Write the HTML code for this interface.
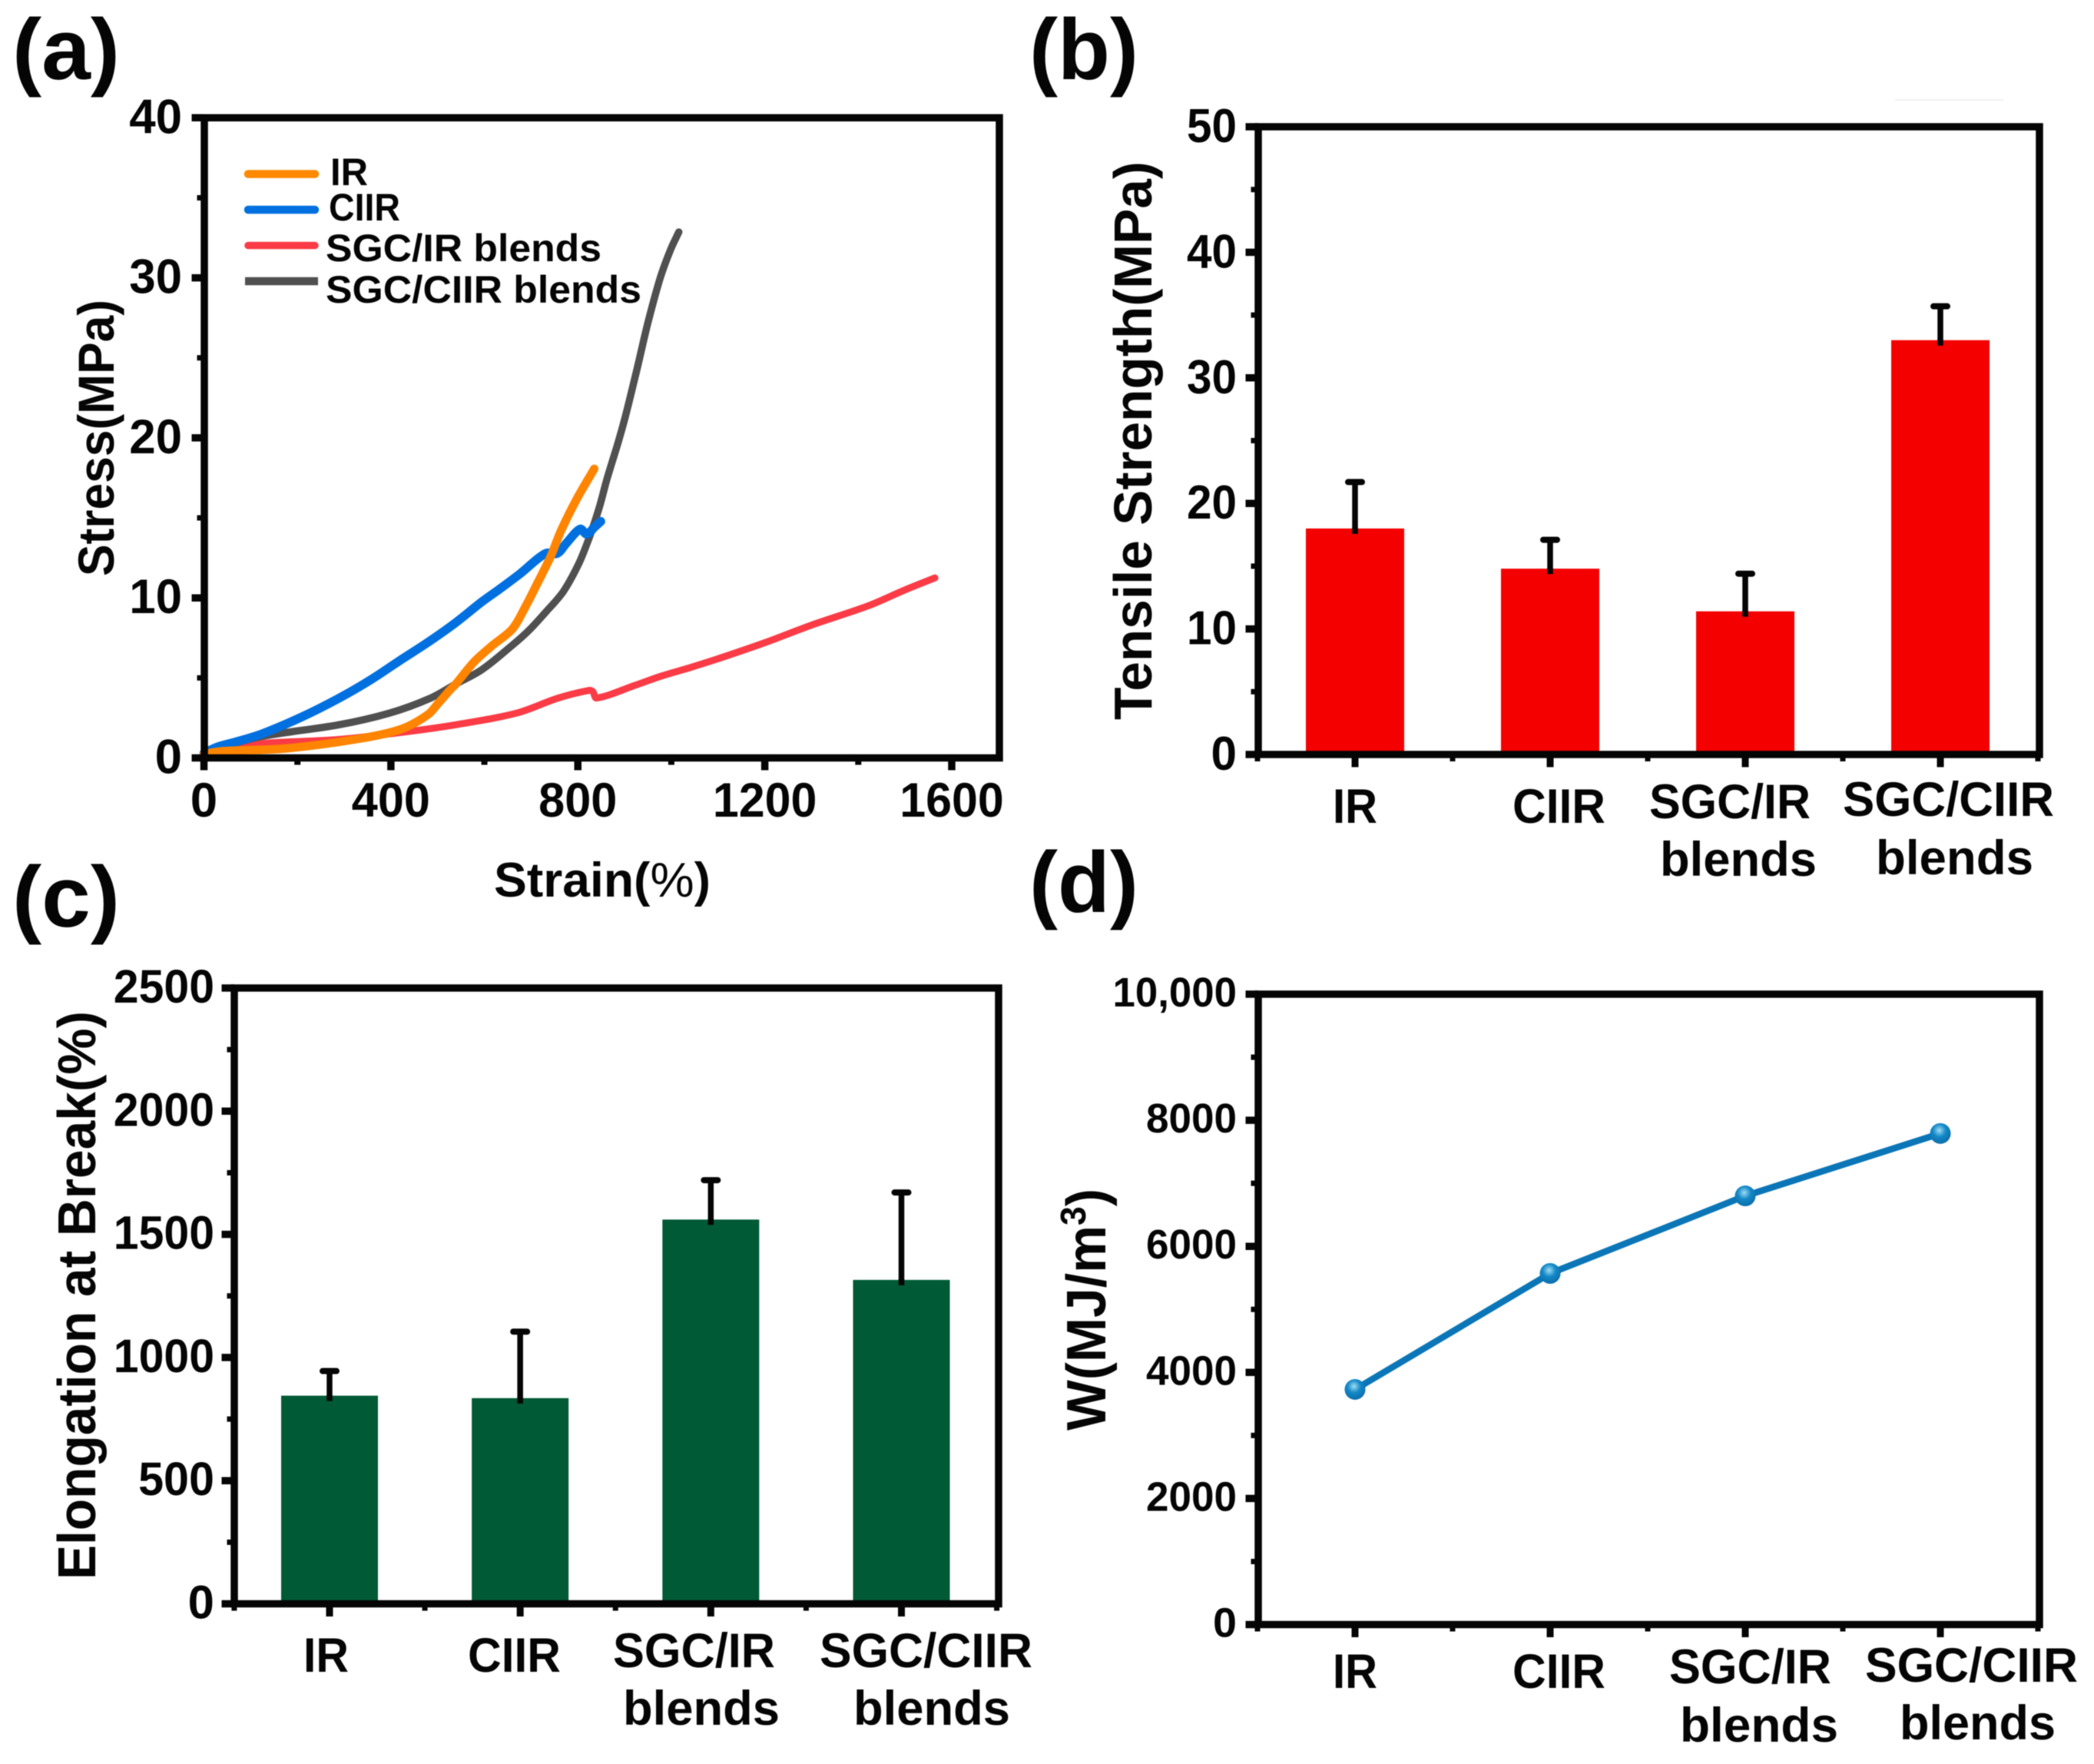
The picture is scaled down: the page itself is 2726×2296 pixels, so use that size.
<!DOCTYPE html>
<html lang="en">
<head>
<meta charset="utf-8">
<title>Mechanical properties of SGC blends</title>
<style>
html,body{margin:0;padding:0;background:#fff;width:2726px;height:2296px;overflow:hidden}
svg{display:block;filter:blur(0.6px)}
text{font-family:"Liberation Sans",sans-serif;font-weight:bold;fill:#050505}
.lab{font-size:63px}
.pan{font-size:112px}
.leg{font-size:50px}
</style>
</head>
<body>
<svg id="fig" xmlns="http://www.w3.org/2000/svg" width="2726" height="2296" viewBox="0 0 2726 2296">
<defs>
<radialGradient id="dotGrad" cx="0.45" cy="0.35" r="0.7">
<stop offset="0" stop-color="#9fdcf5"/><stop offset="0.45" stop-color="#1488c6"/><stop offset="1" stop-color="#0a6aa8"/>
</radialGradient>
</defs>
<rect width="2726" height="2296" fill="#fff"/>
<line x1="2467" y1="130" x2="2608" y2="130" stroke="#f1f1f1" stroke-width="2"/>

<g id="panelA"></g>
<g id="panelB"></g>
<g id="panelC"></g>
<g id="panelD"></g>

<text class="pan" x="16" y="103" textLength="140" lengthAdjust="spacingAndGlyphs">(a)</text>
<text class="pan" x="1340" y="103" textLength="142" lengthAdjust="spacingAndGlyphs">(b)</text>
<text class="pan" x="16" y="1206" textLength="140" lengthAdjust="spacingAndGlyphs">(c)</text>
<text class="pan" x="1340" y="1187" textLength="142" lengthAdjust="spacingAndGlyphs">(d)</text>

<text font-size="66" transform="translate(148,750) rotate(-90)" textLength="360" lengthAdjust="spacingAndGlyphs">Stress(MPa)</text>
<text class="lab" x="643" y="1167" textLength="282" lengthAdjust="spacingAndGlyphs">Strain(<tspan font-weight="normal">%</tspan>)</text>
<text font-size="70" transform="translate(1499,937) rotate(-90)" textLength="727" lengthAdjust="spacingAndGlyphs">Tensile Strength(MPa)</text>
<text font-size="70" transform="translate(124,2056) rotate(-90)" textLength="740" lengthAdjust="spacingAndGlyphs">Elongation at Break(%)</text>
<text font-size="72" transform="translate(1439,1862) rotate(-90)" textLength="315" lengthAdjust="spacingAndGlyphs">W(MJ/m<tspan font-size="46" dy="-26">3</tspan><tspan dy="26">)</tspan></text>

<g>
<line x1="323" y1="226.5" x2="410" y2="226.5" stroke="#ff8a00" stroke-width="10.5" stroke-linecap="round"/>
<line x1="323" y1="273" x2="410" y2="273" stroke="#0070e0" stroke-width="10.5" stroke-linecap="round"/>
<line x1="323" y1="319.5" x2="410" y2="319.5" stroke="#fb3b46" stroke-width="9.5" stroke-linecap="round"/>
<line x1="319" y1="366" x2="414" y2="366" stroke="#505050" stroke-width="10.5"/>
<text class="leg" x="430" y="241" textLength="49" lengthAdjust="spacingAndGlyphs">IR</text>
<text class="leg" x="428" y="287" textLength="93" lengthAdjust="spacingAndGlyphs">CIIR</text>
<text class="leg" x="424" y="340" textLength="359" lengthAdjust="spacingAndGlyphs">SGC/IR blends</text>
<text class="leg" x="424" y="394" textLength="411" lengthAdjust="spacingAndGlyphs">SGC/CIIR blends</text>
</g>

<g>
<text class="lab" x="1735" y="1071" textLength="58" lengthAdjust="spacingAndGlyphs">IR</text>
<text class="lab" x="1969" y="1071" textLength="121" lengthAdjust="spacingAndGlyphs">CIIR</text>
<text class="lab" x="2147" y="1065" textLength="210" lengthAdjust="spacingAndGlyphs">SGC/IR</text>
<text class="lab" x="2161" y="1140" textLength="204" lengthAdjust="spacingAndGlyphs">blends</text>
<text class="lab" x="2399" y="1062" textLength="275" lengthAdjust="spacingAndGlyphs">SGC/CIIR</text>
<text class="lab" x="2442" y="1138" textLength="205" lengthAdjust="spacingAndGlyphs">blends</text>
</g>
<g>
<text class="lab" x="395" y="2176" textLength="59" lengthAdjust="spacingAndGlyphs">IR</text>
<text class="lab" x="609" y="2176" textLength="121" lengthAdjust="spacingAndGlyphs">CIIR</text>
<text class="lab" x="798" y="2170" textLength="211" lengthAdjust="spacingAndGlyphs">SGC/IR</text>
<text class="lab" x="811" y="2245" textLength="204" lengthAdjust="spacingAndGlyphs">blends</text>
<text class="lab" x="1067" y="2170" textLength="277" lengthAdjust="spacingAndGlyphs">SGC/CIIR</text>
<text class="lab" x="1111" y="2245" textLength="204" lengthAdjust="spacingAndGlyphs">blends</text>
</g>
<g>
<text class="lab" x="1735" y="2197" textLength="58" lengthAdjust="spacingAndGlyphs">IR</text>
<text class="lab" x="1969" y="2197" textLength="121" lengthAdjust="spacingAndGlyphs">CIIR</text>
<text class="lab" x="2173" y="2191" textLength="211" lengthAdjust="spacingAndGlyphs">SGC/IR</text>
<text class="lab" x="2187" y="2267" textLength="206" lengthAdjust="spacingAndGlyphs">blends</text>
<text class="lab" x="2428" y="2189" textLength="277" lengthAdjust="spacingAndGlyphs">SGC/CIIR</text>
<text class="lab" x="2473" y="2264" textLength="203" lengthAdjust="spacingAndGlyphs">blends</text>
</g>
</svg>

<script>
// Panel (a) data
const strainIR = [0,40,178,342,424,479,501,528,539,578,616,660,687,715,742,764,797,835];
const stressIR = [0.25,0.42,0.6,1.25,1.82,2.7,3.4,4.3,4.62,6.0,7.0,8.06,9.4,11.0,12.6,14.2,16.14,18.06];
const strainCIIR = [0,30,68,123,205,287,358,420,485,539,594,632,676,731,756,775,805,819,835,849];
const stressCIIR = [0.3,0.7,1.0,1.49,2.5,3.7,4.9,6.1,7.34,8.46,9.74,10.54,11.5,12.78,12.78,13.4,14.3,13.98,14.4,14.78];
const strainSGCIR = [0,40,123,287,424,534,669,758,824,832,840,923,977,1043,1100,1200,1300,1421,1500,1564];
const stressSGCIR = [0.25,0.5,0.9,1.15,1.6,2.05,2.8,3.74,4.22,4.15,3.74,4.54,5.1,5.67,6.2,7.2,8.3,9.5,10.5,11.25];
const strainSGCCIIR = [0,30,123,287,397,485,539,594,649,693,731,769,802,824,846,862,884,901,925,950,977,999,1016];
const stressSGCCIIR = [0.25,0.6,1.34,2.06,2.8,3.74,4.62,5.5,6.78,7.9,9.1,10.4,12.14,13.74,15.66,17.4,19.5,21.26,24.1,27.2,30.06,31.8,32.86];
const aXTicks = [0,400,800,1200,1600];
const aYTicks = [0,10,20,30,40];

// Panel (b) data
const tensileValues = [18,14.8,11.4,33];
const tensileErrorTops = [21.7,17.1,14.4,35.7];
const bYTicks = [0,10,20,30,40,50];

// Panel (c) data
const elongationValues = [845,835,1560,1315];
const elongationErrorTops = [945,1105,1720,1670];
const cYTicks = [0,500,1000,1500,2000,2500];

// Panel (d) data
const workValues = [3730,5570,6800,7790];
const dYTicks = [0,2000,4000,6000,8000,10000];
const dYTickLabels = ['0','2000','4000','6000','8000','10,000'];

const NS = 'http://www.w3.org/2000/svg';
const INK = '#050505';
function mk(parent, tag, name, attrs){
  const el = document.createElementNS(NS, tag);
  
  
  for (const k in attrs) el.setAttribute(k, attrs[k]);
  parent.appendChild(el);
  return el;
}
function linear(d0,d1,r0,r1){ return v => r0 + (v-d0)*(r1-r0)/(d1-d0); }
function frame(g, box, name){
  mk(g,'rect',name,{x:box.l,y:box.t,width:box.r-box.l,height:box.b-box.t,fill:'none',stroke:INK,'stroke-width':9.5});
}
function tickText(g, name, str, x, y, anchor, fs, dw){
  const n = str.replace(',','').length;
  const len = n*dw + (str.indexOf(',')>=0 ? dw*0.5 : 0) + 2;
  const t = mk(g,'text',name,{x:x,y:y,'text-anchor':anchor,'font-size':fs,textLength:len,lengthAdjust:'spacingAndGlyphs'});
  t.textContent = str;
}
function yAxis(g, y, ticks, labels, box, st, tag){
  ticks.forEach((v,i)=>{
    mk(g,'line','y-tick-'+tag+'-'+v,{x1:box.l-16.5,x2:box.l,y1:y(v),y2:y(v),stroke:INK,'stroke-width':9.5});
    tickText(g,'y-tick-label-'+tag+'-'+v, labels ? labels[i] : String(v), st.right, y(v)+st.off, 'end', st.fs, st.dw);
    if (i<ticks.length-1){
      const m=(v+ticks[i+1])/2;
      mk(g,'line','y-minor-tick-'+tag+'-'+m,{x1:box.l-9.5,x2:box.l,y1:y(m),y2:y(m),stroke:INK,'stroke-width':7});
    }
  });
}
function catAxis(g, x, n, box, tag){
  for(let i=0;i<n;i++){
    mk(g,'line','x-tick-'+tag+'-'+i,{x1:x(i),x2:x(i),y1:box.b,y2:box.b+16.5,stroke:INK,'stroke-width':9});
    mk(g,'line','x-minor-tick-'+tag+'-'+i,{x1:x(i+0.5),x2:x(i+0.5),y1:box.b,y2:box.b+9,stroke:INK,'stroke-width':7});
    if(i===0) mk(g,'line','x-minor-tick-start-'+tag,{x1:x(-0.5),x2:x(-0.5),y1:box.b,y2:box.b+9,stroke:INK,'stroke-width':7});
  }
}
function curvePath(xs, ys, x, y){
  const p = xs.map((v,i)=>[x(v),y(ys[i])]);
  const dist=(u,w)=>Math.hypot(u[0]-w[0],u[1]-w[1])||1;
  let d = 'M'+p[0][0].toFixed(1)+' '+p[0][1].toFixed(1);
  for(let i=0;i<p.length-1;i++){
    const a=p[Math.max(i-1,0)],b=p[i],c=p[i+1],e=p[Math.min(i+2,p.length-1)];
    const bc=dist(b,c);
    const k1=bc/(dist(a,b)+bc)/3, k2=bc/(dist(c,e)+bc)/3;
    const c1=[b[0]+(c[0]-a[0])*k1,b[1]+(c[1]-a[1])*k1];
    const c2=[c[0]-(e[0]-b[0])*k2,c[1]-(e[1]-b[1])*k2];
    d+=' C'+c1[0].toFixed(1)+' '+c1[1].toFixed(1)+' '+c2[0].toFixed(1)+' '+c2[1].toFixed(1)+' '+c[0].toFixed(1)+' '+c[1].toFixed(1);
  }
  return d;
}
function bars(g, x, y, values, tops, width, color, tag){
  values.forEach((v,i)=>{
    mk(g,'line','error-bar-'+tag+'-'+i,{x1:x(i),x2:x(i),y1:y(v)+7,y2:y(tops[i]),stroke:INK,'stroke-width':7.5});
    mk(g,'line','error-cap-'+tag+'-'+i,{x1:x(i)-9,x2:x(i)+9,y1:y(tops[i]),y2:y(tops[i]),stroke:INK,'stroke-width':8,'stroke-linecap':'round'});
    mk(g,'rect','bar-'+tag+'-'+i,{x:x(i)-width/2,y:y(v),width:width,height:y(0)-y(v),fill:color});
    mk(g,'line','error-base-'+tag+'-'+i,{x1:x(i),x2:x(i),y1:y(v)-1,y2:y(v)+7,stroke:INK,'stroke-width':7.5});
  });
}

// Panel (a)
(function(){
  const g=document.getElementById('panelA');
  const box={l:266,r:1301,t:153.3,b:986.5};
  const x=linear(0,1600,265.5,1239), y=linear(0,40,986.5,153.3);
  mk(g,'path','curve-sgc-ir',{d:curvePath(strainSGCIR,stressSGCIR,x,y),fill:'none',stroke:'#fb3b46','stroke-width':9,'stroke-linecap':'round','stroke-linejoin':'round'});
  mk(g,'path','curve-sgc-ciir',{d:curvePath(strainSGCCIIR,stressSGCCIIR,x,y),fill:'none',stroke:'#505050','stroke-width':9.5,'stroke-linecap':'round','stroke-linejoin':'round'});
  mk(g,'path','curve-ciir',{d:curvePath(strainCIIR,stressCIIR,x,y),fill:'none',stroke:'#0070e0','stroke-width':11.5,'stroke-linecap':'round','stroke-linejoin':'round'});
  mk(g,'path','curve-ir',{d:curvePath(strainIR,stressIR,x,y),fill:'none',stroke:'#ff8400','stroke-width':11,'stroke-linecap':'round','stroke-linejoin':'round'});
  frame(g,box,'plot-frame-a');
  yAxis(g,y,aYTicks,null,box,{fs:63,dw:33.4,right:237,off:20},'a');
  aXTicks.forEach((v,i)=>{
    mk(g,'line','x-tick-a-'+v,{x1:x(v),x2:x(v),y1:box.b,y2:box.b+16,stroke:INK,'stroke-width':9.5});
    tickText(g,'x-tick-label-a-'+v,String(v),x(v),1063,'middle',63,33.4);
    if(i<aXTicks.length-1){
      const m=(v+aXTicks[i+1])/2;
      mk(g,'line','x-minor-tick-a-'+m,{x1:x(m),x2:x(m),y1:box.b,y2:box.b+9,stroke:INK,'stroke-width':8});
    }
  });
})();

// Panel (b)
(function(){
  const g=document.getElementById('panelB');
  const box={l:1638,r:2655,t:165,b:982};
  const x=linear(0,3,1764,2526), y=linear(0,50,982,165);
  bars(g,x,y,tensileValues,tensileErrorTops,128,'#f40000','b');
  frame(g,box,'plot-frame-b');
  yAxis(g,y,bYTicks,null,box,{fs:62,dw:31.5,right:1610,off:20},'b');
  catAxis(g,x,tensileValues.length,box,'b');
})();

// Panel (c)
(function(){
  const g=document.getElementById('panelC');
  const box={l:305,r:1300,t:1286,b:2087.5};
  const x=linear(0,3,429,1173.5), y=linear(0,2500,2087.5,1286);
  bars(g,x,y,elongationValues,elongationErrorTops,126,'#005a35','c');
  frame(g,box,'plot-frame-c');
  yAxis(g,y,cYTicks,null,box,{fs:61,dw:32.3,right:279,off:19},'c');
  catAxis(g,x,elongationValues.length,box,'c');
})();

// Panel (d)
(function(){
  const g=document.getElementById('panelD');
  const box={l:1638,r:2655,t:1294,b:2114.5};
  const x=linear(0,3,1764,2526), y=linear(0,10000,2114.5,1294);
  const pts=workValues.map((v,i)=>x(i).toFixed(1)+','+y(v).toFixed(1)).join(' ');
  mk(g,'polyline','work-line',{points:pts,fill:'none',stroke:'#0b76b7','stroke-width':8.5,'stroke-linejoin':'round'});
  workValues.forEach((v,i)=>{
    mk(g,'circle','work-point-'+i,{cx:x(i),cy:y(v),r:13.5,fill:'url(#dotGrad)'});
  });
  frame(g,box,'plot-frame-d');
  yAxis(g,y,dYTicks,dYTickLabels,box,{fs:54,dw:29,right:1610,off:16},'d');
  catAxis(g,x,workValues.length,box,'d');
})();
</script>
</body>
</html>
